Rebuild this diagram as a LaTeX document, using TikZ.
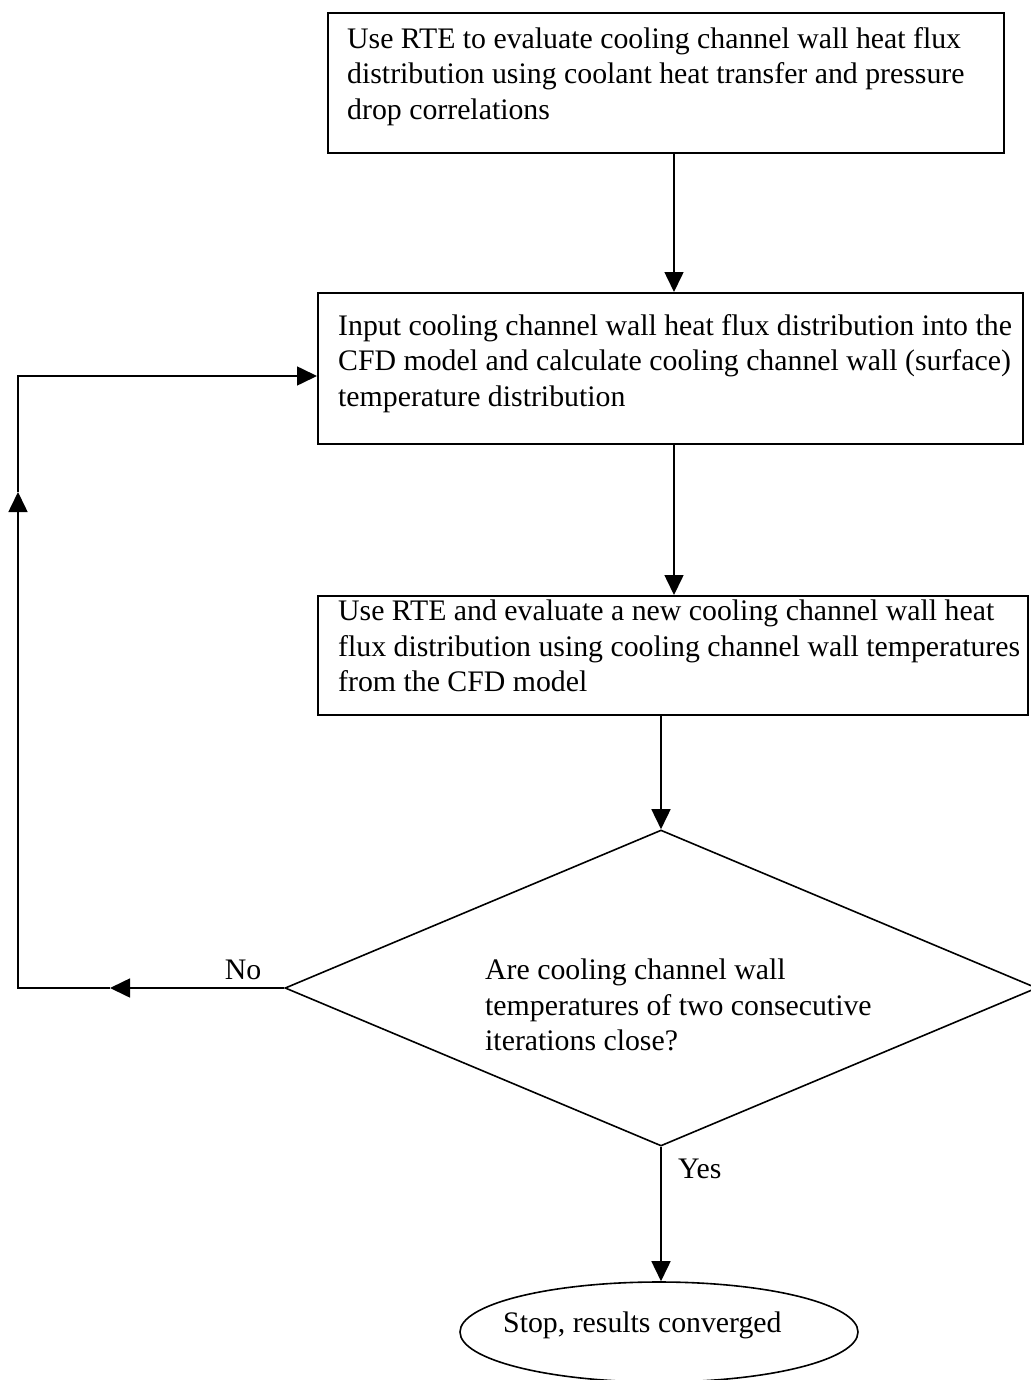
\documentclass[tikz,border=0pt]{standalone}
\usepackage{fontspec}
\setmainfont{Liberation Serif}
\usetikzlibrary{arrows.meta,shapes.geometric}

\tikzset{
  every node/.style={font=\fontsize{29.8}{35.5}\selectfont},
  frame/.style={draw, rectangle, line width=1.6pt, inner sep=0pt, anchor=north west},
  txt/.style={align=left, inner sep=0pt, anchor=north west},
  decision/.style={draw, diamond, line width=1.6pt, inner sep=0pt},
  terminal/.style={draw, ellipse, line width=1.6pt, inner sep=0pt},
  plainline/.style={line width=1.6pt},
  arr/.style={line width=1.6pt, -{Triangle[length=20pt,width=19pt]}},
}

\begin{document}
\begin{tikzpicture}[x=1pt, y=-1pt]
  \useasboundingbox (0,0) rectangle (1030,1380);

  % process boxes
  \node[frame, minimum width=676pt, minimum height=140pt] (b1) at (327,12) {};
  \node[txt] (t1) at (347,27)
    {Use RTE to evaluate cooling channel wall heat flux\\
     distribution using coolant heat transfer and pressure\\
     drop correlations};

  \node[frame, minimum width=705pt, minimum height=151pt] (b2) at (317,292) {};
  \node[txt] (t2) at (338,314)
    {Input cooling channel wall heat flux distribution into the\\
     CFD model and calculate cooling channel wall (surface)\\
     temperature distribution};

  \node[frame, minimum width=710pt, minimum height=119pt] (b3) at (317,595) {};
  \node[txt] (t3) at (338,600)
    {Use RTE and evaluate a new cooling channel wall heat\\
     flux distribution using cooling channel wall temperatures\\
     from the CFD model};

  % decision
  \node[decision, minimum width=752pt, minimum height=316pt] (dia) at (661,988) {};
  \node[txt] (q) at (485,959)
    {Are cooling channel wall\\
     temperatures of two consecutive\\
     iterations close?};

  % terminal
  \node[terminal, minimum width=398pt, minimum height=100pt] (stop) at (659,1332) {};
  \node[inner sep=0pt, anchor=base west] (st) at (503,1332) {Stop, results converged};

  % labels
  \node[inner sep=0pt, anchor=base] (no) at (243,979) {No};
  \node[inner sep=0pt, anchor=base west] (yes) at (678,1178) {Yes};

  % helper points
  \coordinate (xa) at (674,0);
  \coordinate (m1) at (110,988);
  \coordinate (c1) at (18,988);
  \coordinate (m2) at (18,492);
  \coordinate (c2) at (18,376);

  % main flow
  \draw[arr] (b1.south -| xa) -- (b2.north -| xa);
  \draw[arr] (b2.south -| xa) -- (b3.north -| xa);
  \draw[arr] (b3.south -| dia.north) -- (dia.north);
  \draw[arr] (dia.south) -- (stop.north -| dia.south);

  % feedback loop
  \draw[arr] (dia.west) -- (m1);
  \draw[arr] (m1) -- (c1) -- (m2);
  \draw[arr] (m2) -- (c2) -- (c2 -| b2.west);
\end{tikzpicture}
\end{document}
